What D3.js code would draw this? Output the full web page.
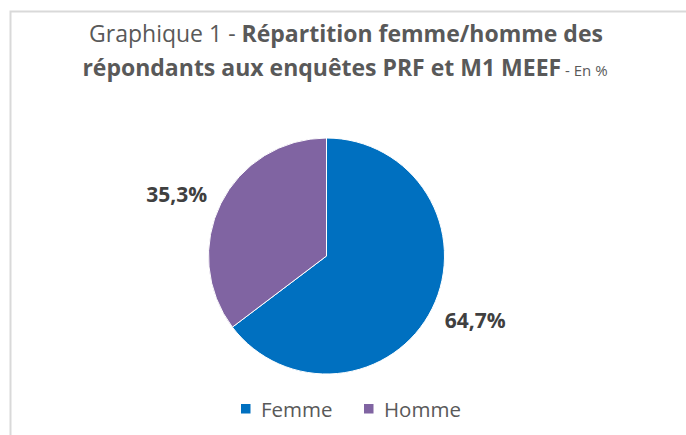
<!DOCTYPE html>
<html><head><meta charset="utf-8">
<script src="https://cdn.jsdelivr.net/npm/d3@7"></script>
<style>body{margin:0;background:#fff}svg{display:block}</style>
</head><body>
<svg id="c" width="686" height="435"></svg>
<script>
const categories = ["Femme", "Homme"];
const values = [64.7, 35.3];
const labels = ["64,7%", "35,3%"];
const colors = ["#0070C0", "#8064A2"];

const svg = d3.select("#c");
const font = "'Open Sans', sans-serif";
const grey = "#595959";

// frame
svg.append("path").attr("d","M10.5,435 V11.5 H686").attr("fill","none").attr("stroke","#d9d9d9").attr("stroke-width",2);

// title
const t1 = svg.append("text").attr("x",346).attr("y",41.5).attr("text-anchor","middle")
  .attr("font-family",font).attr("font-size",23).attr("fill",grey);
t1.append("tspan").text("Graphique 1 - ");
t1.append("tspan").attr("font-weight","bold").text("Répartition femme/homme des");
const t2 = svg.append("text").attr("x",345).attr("y",76).attr("text-anchor","middle")
  .attr("font-family",font).attr("font-size",23).attr("fill",grey);
t2.append("tspan").attr("font-weight","bold").text("répondants aux enquêtes PRF et M1 MEEF");
t2.append("tspan").attr("font-size",15).text(" - En %");

// pie
const cx = 326.5, cy = 256, r = 118;
const pie = d3.pie().sort(null).value(d => d.v);
const data = pie(categories.map((c,i)=>({c, v: values[i], l: labels[i], col: colors[i]})));
const arc = d3.arc().innerRadius(0).outerRadius(r);
const g = svg.append("g").attr("transform",`translate(${cx},${cy})`);
g.selectAll("path").data(data).join("path").attr("d",arc).attr("fill",d=>d.data.col)
  .attr("stroke","#fff").attr("stroke-width",1);

// outside-end labels anchored at the corner nearest the slice
const labelArc = d3.arc().innerRadius(r+4).outerRadius(r+4);
g.selectAll("text.lab").data(data).join("text").attr("class","lab")
  .each(function(d){
    const [x,y] = labelArc.centroid(d);
    const right = x > 0, lower = y > 0;
    d3.select(this)
      .attr("x", x + (right ? 9 : -10))
      .attr("y", y + (lower ? 18 : 0))
      .attr("text-anchor", right ? "start" : "end");
  })
  .attr("font-family",font).attr("font-weight","bold").attr("font-size",21).attr("fill","#404040")
  .text(d=>d.data.l);

// legend
const legX = [241, 364];
const lg = svg.selectAll("g.leg").data(categories).join("g").attr("class","leg")
  .attr("transform",(d,i)=>`translate(${legX[i]},404)`);
lg.append("rect").attr("width",9.5).attr("height",9.5).attr("fill",(d,i)=>colors[i]);
lg.append("text").attr("x",20).attr("y",13).attr("font-family",font).attr("font-size",20.5).attr("fill",grey).text(d=>d);
</script>
</body></html>
